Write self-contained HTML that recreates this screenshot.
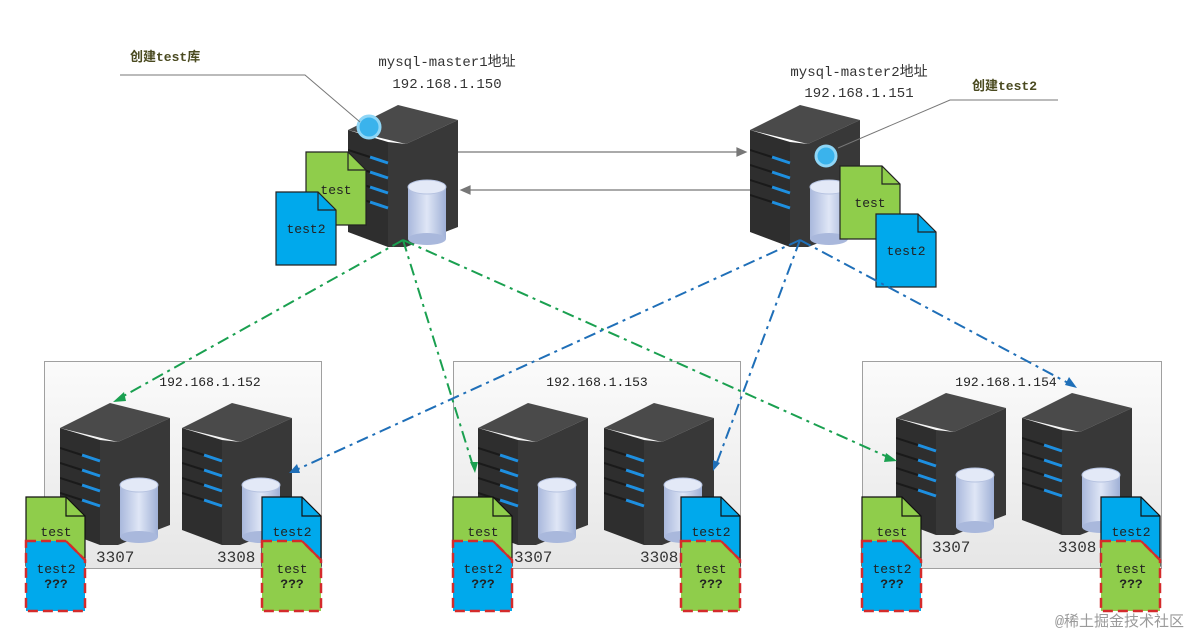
<!DOCTYPE html>
<html><head><meta charset="utf-8"><style>
body{margin:0;background:#fff;}
svg text{font-family:"Liberation Mono","Noto Sans CJK SC",monospace;}
</style></head><body>
<svg width="1191" height="637" viewBox="0 0 1191 637" xmlns="http://www.w3.org/2000/svg">
<defs>
<linearGradient id="bx" x1="0" y1="0" x2="0" y2="1"><stop offset="0" stop-color="#fbfbfb"/><stop offset="1" stop-color="#e6e6e6"/></linearGradient>
<linearGradient id="cy" x1="0" y1="0" x2="1" y2="0"><stop offset="0" stop-color="#a9b8dc"/><stop offset=".5" stop-color="#dfe6f6"/><stop offset="1" stop-color="#9fb0d6"/></linearGradient>
<symbol id="srv" viewBox="0 0 110 145" width="110" height="145">
<polygon points="0,28 50,3 110,18 58,42" fill="#4a4a4a"/>
<polygon points="0,28 40,40 40,145 0,130" fill="#2e2e2e"/>
<polygon points="40,40 58,42 110,18 110,125 58,145 40,145" fill="#383838"/>
<g stroke="#1e8fe0" stroke-width="3"><line x1="22" y1="55" x2="40" y2="61"/><line x1="22" y1="70" x2="40" y2="76"/><line x1="22" y1="85" x2="40" y2="91"/><line x1="22" y1="100" x2="40" y2="106"/></g>
<g stroke="#1a1a1a" stroke-width="2"><line x1="0" y1="48" x2="22" y2="55"/><line x1="0" y1="63" x2="22" y2="70"/><line x1="0" y1="78" x2="22" y2="85"/><line x1="0" y1="93" x2="22" y2="100"/></g>
<rect x="60" y="85" width="38" height="52" fill="url(#cy)"/>
<ellipse cx="79" cy="137" rx="19" ry="6" fill="#a9b8dc"/>
<ellipse cx="79" cy="85" rx="19" ry="7" fill="#e3e9f7" stroke="#b5c2e0"/>
</symbol>
</defs>
<!-- boxes -->
<rect x="44.5" y="361.5" width="277" height="207" fill="url(#bx)" stroke="#a0a0a0"/>
<rect x="453.5" y="361.5" width="287" height="207" fill="url(#bx)" stroke="#a0a0a0"/>
<rect x="862.5" y="361.5" width="299" height="207" fill="url(#bx)" stroke="#a0a0a0"/>
<g font-size="13" fill="#222" text-anchor="middle">
<text x="210" y="386">192.168.1.152</text><text x="597" y="386">192.168.1.153</text><text x="1006" y="386">192.168.1.154</text>
</g>
<!-- servers -->
<use href="#srv" x="348" y="102"/>
<use href="#srv" x="750" y="102"/>
<use href="#srv" x="60" y="400"/><use href="#srv" x="182" y="400"/>
<use href="#srv" x="478" y="400"/><use href="#srv" x="604" y="400"/>
<use href="#srv" x="896" y="390"/><use href="#srv" x="1022" y="390"/>
<circle cx="369" cy="127" r="11" fill="#3ab3ec" stroke="#8fd6f6" stroke-width="3"/>
<circle cx="826" cy="156" r="10" fill="#3ab3ec" stroke="#8fd6f6" stroke-width="3"/>
<g font-family="Liberation Sans,sans-serif" font-size="16" fill="#333">
<text x="96" y="562" font-family="Liberation Sans,sans-serif">3307</text><text x="217" y="562" font-family="Liberation Sans,sans-serif">3308</text>
<text x="514" y="562" font-family="Liberation Sans,sans-serif">3307</text><text x="640" y="562" font-family="Liberation Sans,sans-serif">3308</text>
<text x="932" y="552" font-family="Liberation Sans,sans-serif">3307</text><text x="1058" y="552" font-family="Liberation Sans,sans-serif">3308</text>
</g>
<!-- master labels -->
<g font-size="14" fill="#333" text-anchor="middle">
<text x="447" y="66">mysql-master1地址</text><text x="447" y="88">192.168.1.150</text>
<text x="859" y="76">mysql-master2地址</text><text x="859" y="97">192.168.1.151</text>
</g>
<g font-size="13" font-weight="bold" fill="#4a4a20">
<text x="130" y="61">创建test库</text><text x="972" y="90">创建test2</text>
</g>
<polyline points="120,75 305,75 360,122" fill="none" stroke="#777"/>
<polyline points="1058,100 950,100 838,148" fill="none" stroke="#777"/>
<!-- master arrows -->
<g stroke="#777" stroke-width="1.2" fill="#777">
<line x1="458" y1="152" x2="740" y2="152"/><polygon points="746,152 737,148 737,156"/>
<line x1="750" y1="190" x2="468" y2="190"/><polygon points="461,190 470,186 470,194"/>
</g>
<!-- master docs -->
<g font-size="13" fill="#222" text-anchor="middle" stroke-width="1.2">
<path d="M306 152h42l18 18v55h-60z" fill="#8fcd4b" stroke="#222"/><path d="M348 152v18h18" fill="none" stroke="#222"/><text x="336" y="194">test</text>
<path d="M276 192h42l18 18v55h-60z" fill="#00a9ec" stroke="#222"/><path d="M318 192v18h18" fill="none" stroke="#222"/><text x="306" y="233">test2</text>
<path d="M840 166h42l18 18v55h-60z" fill="#8fcd4b" stroke="#222"/><path d="M882 166v18h18" fill="none" stroke="#222"/><text x="870" y="207">test</text>
<path d="M876 214h42l18 18v55h-60z" fill="#00a9ec" stroke="#222"/><path d="M918 214v18h18" fill="none" stroke="#222"/><text x="906" y="255">test2</text>
</g>
<!-- lines -->
<g fill="none" stroke-width="2" stroke-dasharray="12,5,3,5">
<g stroke="#1aa050"><line x1="403" y1="240" x2="120" y2="398"/><line x1="403" y1="240" x2="473" y2="466"/><line x1="403" y1="240" x2="890" y2="458"/></g>
<g stroke="#1f6fb8"><line x1="800" y1="240" x2="296" y2="470"/><line x1="800" y1="240" x2="716" y2="465"/><line x1="800" y1="240" x2="1070" y2="384"/></g>
</g>
<g fill="#1aa050"><polygon points="113,402 124,392 126,401"/><polygon points="475,473 470,462 478,462"/><polygon points="897,461 886,453 884,462"/></g>
<g fill="#1f6fb8"><polygon points="289,473 297,464 300,473"/><polygon points="713,471 713,460 720,463"/><polygon points="1077,388 1065,385 1069,377"/></g>
<!-- bottom docs -->
<g font-size="13" fill="#222" text-anchor="middle" stroke-width="1.2">
<g id="d1">
<path d="M26 497h40l19 19v50h-59z" fill="#8fcd4b" stroke="#111"/><path d="M66 497v19h19" fill="none" stroke="#111"/><text x="56" y="536">test</text>
<path d="M26 541h40l19 19v51h-59z" fill="#00a9ec" stroke="#d42b2b" stroke-width="2.5" stroke-dasharray="10,5"/><path d="M66 541l19 19" stroke="#d42b2b" stroke-width="2"/><text x="56" y="573">test2</text><text x="56" y="588" font-weight="bold">???</text>
</g>
<g id="d2">
<path d="M262 497h40l19 19v50h-59z" fill="#00a9ec" stroke="#111"/><path d="M302 497v19h19" fill="none" stroke="#111"/><text x="292" y="536">test2</text>
<path d="M262 541h40l19 19v51h-59z" fill="#8fcd4b" stroke="#d42b2b" stroke-width="2.5" stroke-dasharray="10,5"/><path d="M302 541l19 19" stroke="#d42b2b" stroke-width="2"/><text x="292" y="573">test</text><text x="292" y="588" font-weight="bold">???</text>
</g>
<use href="#d1" x="427"/><use href="#d2" x="419"/>
<use href="#d1" x="836"/><use href="#d2" x="839"/>
</g>
<text x="1184" y="626" text-anchor="end" font-family="Liberation Sans,Noto Sans CJK SC,sans-serif" font-size="15" fill="#9a9a9a">@稀土掘金技术社区</text>
</svg>
</body></html>
